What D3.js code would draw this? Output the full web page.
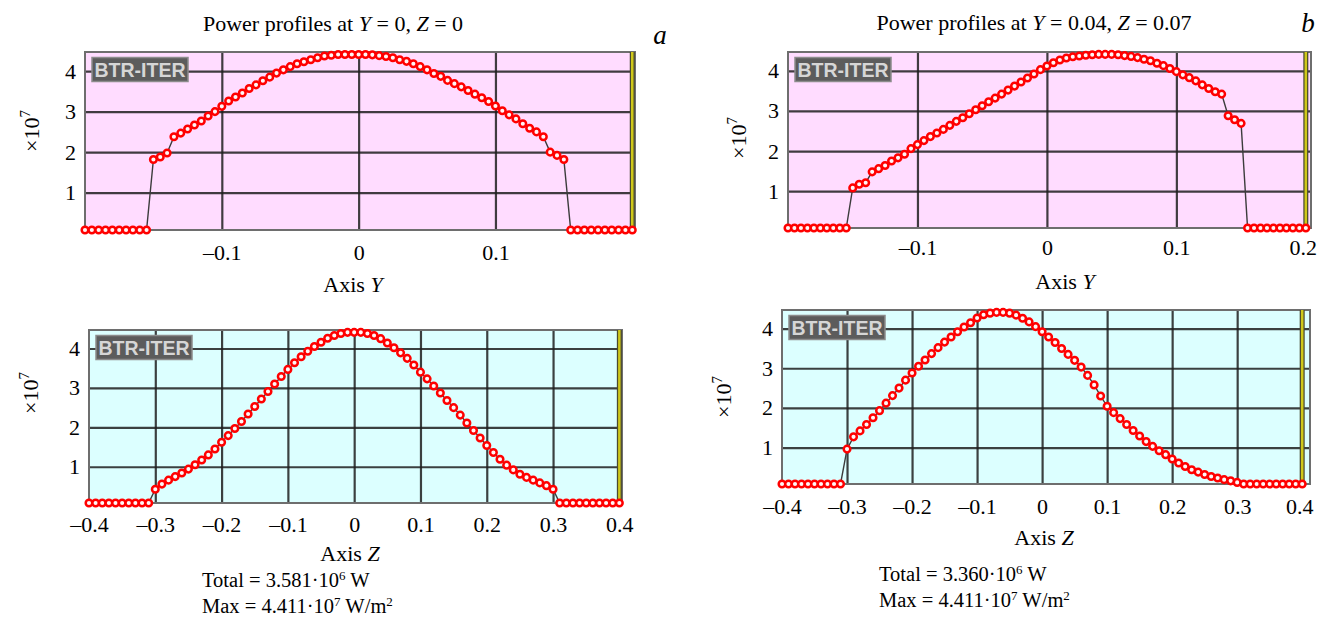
<!DOCTYPE html>
<html>
<head>
<meta charset="utf-8">
<script src="https://cdn.jsdelivr.net/npm/d3@7"></script>
<style>
  body { margin: 0; background: #fff; }
  svg { display: block; font-family: "Liberation Serif", "Times New Roman", serif; }
</style>
</head>
<body>
<svg id="chart" width="1317" height="617"></svg>
<script>
// positions along the profile (m)
const axisYPositions = [
  -0.2, -0.195, -0.19, -0.185, -0.18, -0.175, -0.17, -0.165, -0.16, -0.155,
  -0.15, -0.145, -0.14, -0.135, -0.13, -0.125, -0.12, -0.115, -0.11, -0.105,
  -0.1, -0.095, -0.09, -0.085, -0.08, -0.075, -0.07, -0.065, -0.06, -0.055,
  -0.05, -0.045, -0.04, -0.035, -0.03, -0.025, -0.02, -0.015, -0.01, -0.005,
  0, 0.005, 0.01, 0.015, 0.02, 0.025, 0.03, 0.035, 0.04, 0.045,
  0.05, 0.055, 0.06, 0.065, 0.07, 0.075, 0.08, 0.085, 0.09, 0.095,
  0.1, 0.105, 0.11, 0.115, 0.12, 0.125, 0.13, 0.135, 0.14, 0.145,
  0.15, 0.155, 0.16, 0.165, 0.17, 0.175, 0.18, 0.185, 0.19, 0.195,
  0.2
];
const axisZPositions = [
  -0.4, -0.39, -0.38, -0.37, -0.36, -0.35, -0.34, -0.33, -0.32, -0.31,
  -0.3, -0.29, -0.28, -0.27, -0.26, -0.25, -0.24, -0.23, -0.22, -0.21,
  -0.2, -0.19, -0.18, -0.17, -0.16, -0.15, -0.14, -0.13, -0.12, -0.11,
  -0.1, -0.09, -0.08, -0.07, -0.06, -0.05, -0.04, -0.03, -0.02, -0.01,
  0, 0.01, 0.02, 0.03, 0.04, 0.05, 0.06, 0.07, 0.08, 0.09,
  0.1, 0.11, 0.12, 0.13, 0.14, 0.15, 0.16, 0.17, 0.18, 0.19,
  0.2, 0.21, 0.22, 0.23, 0.24, 0.25, 0.26, 0.27, 0.28, 0.29,
  0.3, 0.31, 0.32, 0.33, 0.34, 0.35, 0.36, 0.37, 0.38, 0.39,
  0.4
];

// power density, x10^7 W/m^2
const powerYa = [
  0, 0, 0, 0, 0, 0, 0, 0, 0, 0,
  1.82, 1.88, 1.98, 2.38, 2.47, 2.57, 2.67, 2.77, 2.89, 3.00,
  3.13, 3.26, 3.36, 3.46, 3.57, 3.66, 3.76, 3.85, 3.95, 4.03,
  4.11, 4.18, 4.23, 4.28, 4.33, 4.37, 4.39, 4.41, 4.41, 4.41,
  4.41, 4.41, 4.40, 4.38, 4.36, 4.33, 4.28, 4.24, 4.18, 4.11,
  4.03, 3.94, 3.87, 3.77, 3.69, 3.61, 3.52, 3.43, 3.34, 3.25,
  3.14, 3.02, 2.92, 2.82, 2.70, 2.59, 2.50, 2.38, 2.00, 1.92,
  1.82, 0, 0, 0, 0, 0, 0, 0, 0, 0,
  0
];
const powerYb = [
  0, 0, 0, 0, 0, 0, 0, 0, 0, 0,
  1.08, 1.17, 1.21, 1.48, 1.56, 1.64, 1.75, 1.83, 1.92, 2.06,
  2.16, 2.26, 2.36, 2.45, 2.54, 2.64, 2.74, 2.83, 2.93, 3.03,
  3.13, 3.23, 3.32, 3.42, 3.52, 3.62, 3.72, 3.82, 3.92, 4.03,
  4.12, 4.20, 4.27, 4.32, 4.35, 4.37, 4.39, 4.40, 4.41, 4.41,
  4.41, 4.40, 4.38, 4.36, 4.33, 4.29, 4.25, 4.19, 4.13, 4.06,
  3.98, 3.90, 3.83, 3.75, 3.65, 3.56, 3.48, 3.42, 2.88, 2.78,
  2.69, 0, 0, 0, 0, 0, 0, 0, 0, 0,
  0
];
const powerZa = [
  0, 0, 0, 0, 0, 0, 0, 0, 0, 0,
  0.43, 0.56, 0.66, 0.75, 0.84, 0.94, 1.05, 1.17, 1.30, 1.45,
  1.62, 1.79, 1.97, 2.15, 2.34, 2.53, 2.72, 2.91, 3.10, 3.29,
  3.47, 3.64, 3.79, 3.93, 4.05, 4.16, 4.26, 4.33, 4.38, 4.41,
  4.41, 4.41, 4.38, 4.33, 4.25, 4.14, 4.02, 3.89, 3.75, 3.58,
  3.40, 3.23, 3.05, 2.87, 2.68, 2.50, 2.31, 2.11, 1.92, 1.73,
  1.54, 1.36, 1.19, 1.04, 0.92, 0.81, 0.73, 0.66, 0.59, 0.52,
  0.43, 0, 0, 0, 0, 0, 0, 0, 0, 0,
  0
];
const powerZb = [
  0, 0, 0, 0, 0, 0, 0, 0, 0, 0,
  0.96, 1.27, 1.42, 1.58, 1.75, 1.93, 2.12, 2.31, 2.50, 2.70,
  2.88, 3.05, 3.21, 3.37, 3.52, 3.66, 3.79, 3.92, 4.04, 4.15,
  4.27, 4.35, 4.39, 4.41, 4.41, 4.39, 4.34, 4.26, 4.17, 4.05,
  3.92, 3.79, 3.65, 3.50, 3.35, 3.20, 3.03, 2.82, 2.58, 2.30,
  2.04, 1.88, 1.73, 1.58, 1.43, 1.29, 1.15, 1.03, 0.92, 0.82,
  0.71, 0.61, 0.52, 0.44, 0.38, 0.32, 0.27, 0.23, 0.19, 0.16,
  0.12, 0, 0, 0, 0, 0, 0, 0, 0, 0,
  0
];

const valueTicks = [1, 2, 3, 4];
const yTicksA = [-0.1, 0, 0.1];
const yTicksB = [-0.1, 0, 0.1, 0.2];
const zTicks = [-0.4, -0.3, -0.2, -0.1, 0, 0.1, 0.2, 0.3, 0.4];

const svg = d3.select('#chart');
svg.append('rect').attr('width', 1317).attr('height', 617).attr('fill', '#fff');

let fmt = d => (d < 0 ? '\u2013' + Math.abs(d) : String(d));

// one Mathcad-like plot
let drawPanel = function (p) {
  let x = d3.scaleLinear().domain(p.xDomain).range([p.x0, p.x1]);
  let y = d3.scaleLinear().domain([0.08, 4.47]).range([p.y1, p.y0]).clamp(true);
  let g = svg.append('g');

  g.append('rect')
    .attr('x', p.x0).attr('y', p.y0)
    .attr('width', p.x1 - p.x0).attr('height', p.y1 - p.y0)
    .attr('fill', p.bg);

  let xa = g.append('g')
    .attr('transform', `translate(0,${p.y1})`)
    .call(d3.axisBottom(x).tickValues(p.ticks).tickFormat(fmt)
      .tickSize(-(p.y1 - p.y0)).tickPadding(p.labelPad));
  let ya = g.append('g')
    .attr('transform', `translate(${p.x0},0)`)
    .call(d3.axisLeft(y).tickValues(valueTicks).tickFormat(d => d)
      .tickSize(-(p.x1 - p.x0)).tickPadding(9));
  [xa, ya].forEach(a => {
    a.select('.domain').remove();
    a.selectAll('line').attr('stroke', '#1e1e1e').attr('stroke-width', 2.2).attr('stroke-opacity', 0.85);
    a.selectAll('text').attr('font-size', 22).attr('fill', '#000')
      .attr('font-family', '"Liberation Serif", "Times New Roman", serif');
  });
  // hide grid line on plot edge, keep a label that touches the page edge inside
  xa.selectAll('.tick').filter(d => d <= p.xDomain[0] + 1e-9).select('line').remove();
  xa.selectAll('.tick text').filter(d => x(d) > 1300).attr('dx', -3);

  g.append('rect')
    .attr('x', p.x0).attr('y', p.y0)
    .attr('width', p.x1 - p.x0).attr('height', p.y1 - p.y0)
    .attr('fill', 'none').attr('stroke', '#6e6e6e').attr('stroke-width', 2);

  // range marker at the right end
  g.append('line')
    .attr('x1', x(p.marker)).attr('x2', x(p.marker))
    .attr('y1', p.y0).attr('y2', p.y1)
    .attr('stroke', '#4a4a30').attr('stroke-width', 5);
  g.append('line')
    .attr('x1', x(p.marker)).attr('x2', x(p.marker))
    .attr('y1', p.y0).attr('y2', p.y1)
    .attr('stroke', '#cfc81a').attr('stroke-width', 2.5);

  // BTR-ITER badge
  g.append('rect')
    .attr('x', p.x0 + 7).attr('y', p.y0 + 5.5)
    .attr('width', 96).attr('height', 24)
    .attr('fill', '#5c5c5c').attr('stroke', '#8c8c8c').attr('stroke-width', 1.5);
  g.append('text')
    .attr('x', p.x0 + 55).attr('y', p.y0 + 24.5)
    .attr('text-anchor', 'middle')
    .attr('font-family', '"Liberation Sans", Arial, sans-serif')
    .attr('font-weight', 'bold').attr('font-size', 19.5)
    .attr('fill', '#d6d6d6')
    .text('BTR-ITER');

  let pts = p.xs.map((v, i) => [v, p.values[i]]);
  g.append('path')
    .datum(pts)
    .attr('fill', 'none').attr('stroke', '#3c3c3c').attr('stroke-width', 1.4)
    .attr('d', d3.line().x(d => x(d[0])).y(d => y(d[1])));
  g.selectAll('circle.pt').data(pts).enter().append('circle')
    .attr('class', 'pt')
    .attr('cx', d => x(d[0])).attr('cy', d => y(d[1]))
    .attr('r', 3.3)
    .attr('fill', '#fff6f6').attr('stroke', '#ff0000').attr('stroke-width', 2.5);

  // rotated multiplier
  let m = g.append('text')
    .attr('transform', `translate(${p.mult[0]},${p.mult[1]}) rotate(-90)`)
    .attr('text-anchor', 'middle').attr('dy', '0.35em')
    .attr('font-size', 22);
  m.append('tspan').text('\u00d710');
  m.append('tspan').attr('font-size', 15).attr('dy', -9).text('7');

  let al = g.append('text')
    .attr('x', p.axisLabel[0]).attr('y', p.axisLabel[1])
    .attr('text-anchor', 'middle').attr('font-size', 22);
  al.append('tspan').text('Axis ');
  al.append('tspan').attr('font-style', 'italic').text(p.axisName);
};

drawPanel({ x0: 85, x1: 635, y0: 52, y1: 230, xDomain: [-0.2, 0.202], marker: 0.2,
  bg: '#ffdcff', ticks: yTicksA, labelPad: 14, xs: axisYPositions, values: powerYa,
  mult: [31, 131], axisLabel: [353, 292], axisName: 'Y' });
drawPanel({ x0: 788, x1: 1311, y0: 52, y1: 228, xDomain: [-0.2, 0.204], marker: 0.2,
  bg: '#ffdcff', ticks: yTicksB, labelPad: 11, xs: axisYPositions, values: powerYb,
  mult: [738, 138], axisLabel: [1065, 289], axisName: 'Y' });
drawPanel({ x0: 89, x1: 622, y0: 330, y1: 503, xDomain: [-0.4, 0.404], marker: 0.4,
  bg: '#dcffff', ticks: zTicks, labelPad: 13, xs: axisZPositions, values: powerZa,
  mult: [30, 393], axisLabel: [350, 561], axisName: 'Z' });
drawPanel({ x0: 782, x1: 1310, y0: 310, y1: 484, xDomain: [-0.4, 0.412], marker: 0.4,
  bg: '#dcffff', ticks: zTicks, labelPad: 14, xs: axisZPositions, values: powerZb,
  mult: [723, 397], axisLabel: [1044, 545], axisName: 'Z' });

// titles
let title = function (cx, by, yv, zv) {
  let t = svg.append('text').attr('x', cx).attr('y', by)
    .attr('text-anchor', 'middle').attr('font-size', 22);
  t.append('tspan').text('Power profiles at ');
  t.append('tspan').attr('font-style', 'italic').text('Y');
  t.append('tspan').text(' = ' + yv + ', ');
  t.append('tspan').attr('font-style', 'italic').text('Z');
  t.append('tspan').text(' = ' + zv);
};
title(333, 31, '0', '0');
title(1034, 30, '0.04', '0.07');

svg.append('text').attr('x', 660).attr('y', 44).attr('text-anchor', 'middle')
  .attr('font-size', 27).attr('font-style', 'italic').text('a');
svg.append('text').attr('x', 1308).attr('y', 32).attr('text-anchor', 'middle')
  .attr('font-size', 27).attr('font-style', 'italic').text('b');

// totals
let totals = function (x0, by, by2, total) {
  let t1 = svg.append('text').attr('x', x0).attr('y', by).attr('font-size', 20.5);
  t1.append('tspan').text('Total = ' + total + '\u00b710');
  t1.append('tspan').attr('font-size', 13).attr('dy', -7).text('6');
  t1.append('tspan').attr('dy', 7).text(' W');
  let t2 = svg.append('text').attr('x', x0).attr('y', by2).attr('font-size', 20.5);
  t2.append('tspan').text('Max = 4.411\u00b710');
  t2.append('tspan').attr('font-size', 13).attr('dy', -7).text('7');
  t2.append('tspan').attr('dy', 7).text(' W/m');
  t2.append('tspan').attr('font-size', 13).attr('dy', -7).text('2');
};
totals(202, 587, 613, '3.581');
totals(879, 581, 607, '3.360');
</script>
</body>
</html>
